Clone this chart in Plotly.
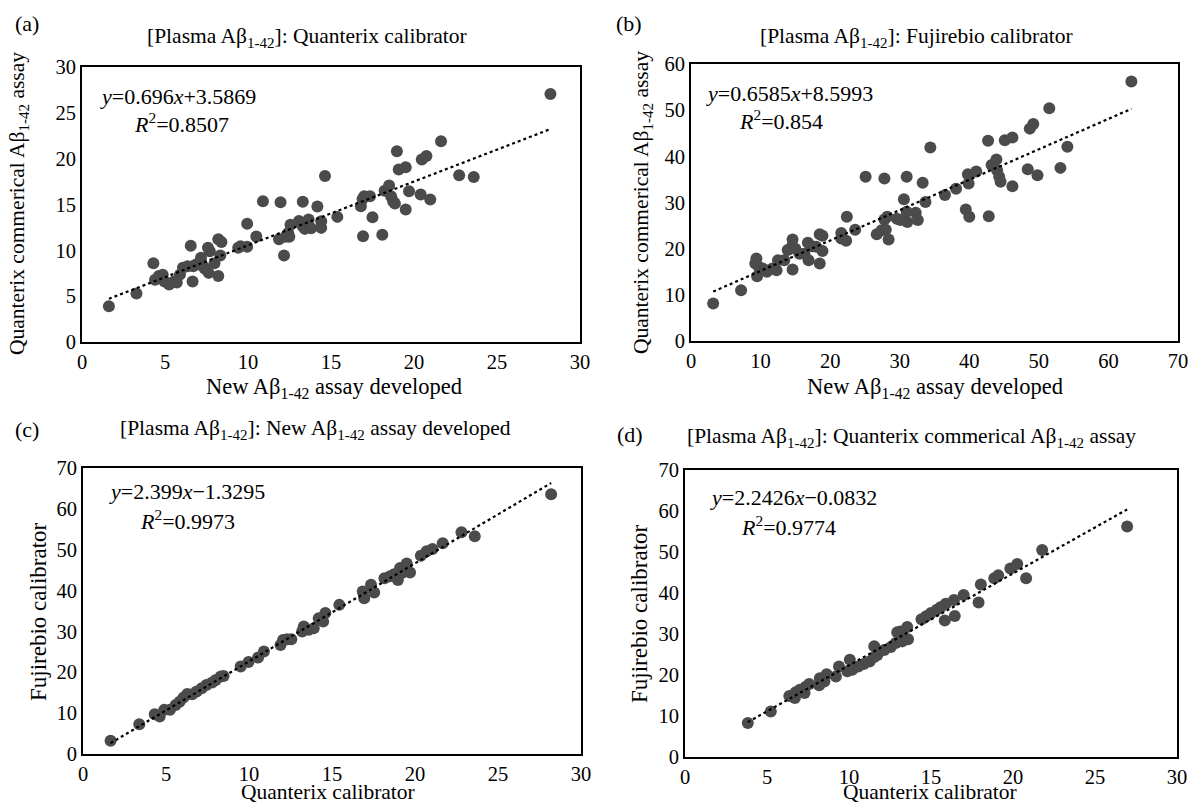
import plotly.graph_objects as go

W, H = 1191, 804

# ---------------- data ----------------
a_x = [1.62, 3.28, 4.3, 4.4, 4.63, 4.86, 4.97, 5.25, 5.55, 5.71, 5.9, 6.08, 6.36, 6.55, 6.66, 6.7, 6.87,
       7.17, 7.29, 7.4, 7.59, 7.63, 7.7, 7.98, 8.21, 8.21, 8.4, 8.33, 9.41, 9.55, 9.95, 9.95, 10.5, 10.9,
       11.87, 11.96, 12.17, 12.26, 12.42, 12.56, 12.49, 13.07, 13.3, 13.3, 13.42, 13.65, 13.8, 14.18,
       14.41, 14.41, 14.64, 15.38, 16.8, 16.9, 16.93, 17.0, 17.35, 17.5, 18.09, 18.23, 18.5, 18.62,
       18.74, 18.85, 18.97, 19.08, 19.5, 19.5, 19.7, 20.4, 20.47, 20.75, 20.98, 21.63, 22.72, 23.6, 28.22]
a_y = [3.9, 5.28, 8.6, 6.8, 7.2, 7.35, 6.6, 6.26, 6.6, 6.5, 7.35, 8.1, 8.26, 10.5, 6.6, 8.26, 8.45,
       9.2, 8.26, 8.0, 10.27, 7.54, 9.9, 8.6, 7.2, 11.2, 10.9, 9.43, 10.27, 10.45, 12.9, 10.4, 11.5, 15.36,
       11.2, 15.25, 9.43, 11.47, 11.9, 12.8, 11.47, 13.2, 15.3, 12.63, 12.34, 13.36, 12.4, 14.78,
       13.18, 12.45, 18.1, 13.65, 14.8, 15.6, 11.54, 15.9, 15.9, 13.6, 11.7, 16.5, 17.07, 15.9,
       15.36, 15.1, 20.82, 18.82, 19.07, 14.45, 16.45, 16.1, 19.9, 20.28, 15.55, 21.9, 18.2, 18.0, 27.05]

b_x = [3.19, 7.2, 9.24, 9.4, 9.5, 9.79, 10.3, 10.9, 11.7, 12.3, 12.5, 13.4, 13.9, 14.5, 14.6, 14.6,
       15.0, 15.6, 16.3, 16.8, 16.9, 17.4, 18.0, 18.5, 18.5, 18.9, 18.9, 21.6, 21.6, 22.3, 22.4, 23.6,
       25.1, 26.7, 27.4, 27.8, 27.8, 28.0, 28.4, 28.2, 29.6, 30.1, 30.6, 31.0, 31.0, 31.1, 32.3, 32.6,
       33.3, 33.7, 34.4, 36.5, 38.1, 39.5, 39.8, 39.9, 40.0, 41.0, 42.7, 42.8, 43.2, 43.9, 44.0, 44.3,
       44.5, 45.1, 46.2, 46.2, 48.4, 48.7, 49.2, 49.8, 51.5, 53.1, 54.1, 63.3]
b_y = [8.1, 11.0, 16.8, 17.86, 14.0, 16.0, 15.7, 15.0, 15.7, 15.3, 17.5, 17.5, 19.7, 20.4, 22.0, 15.5,
       20.0, 18.9, 18.9, 21.3, 17.5, 20.5, 20.4, 16.8, 23.1, 22.8, 19.5, 23.4, 22.2, 21.7, 26.9, 24.1,
       35.6, 23.1, 24.0, 35.2, 26.3, 24.1, 22.0, 26.9, 26.5, 26.2, 30.7, 35.6, 28.0, 25.8, 27.8, 26.2,
       34.3, 30.1, 41.9, 31.6, 33.0, 28.5, 36.1, 34.1, 26.9, 36.7, 43.4, 27.0, 38.1, 39.3, 37.0, 35.6,
       34.5, 43.5, 44.1, 33.5, 37.2, 46.0, 47.0, 35.9, 50.4, 37.5, 42.1, 56.2]

c_x = [1.66, 3.39, 4.32, 4.62, 4.89, 5.24, 5.58, 5.82, 6.05, 6.28, 6.58, 6.85, 7.15, 7.43, 7.78, 8.0,
       8.3, 8.47, 9.5, 9.97, 10.55, 10.9, 11.9, 12.05, 12.3, 12.55, 13.2, 13.3, 13.6, 13.9, 14.2, 14.47,
       14.6, 15.44, 16.85, 16.94, 17.35, 17.54, 18.16, 18.5, 18.74, 18.97, 19.1, 19.2, 19.5, 19.7,
       20.35, 20.7, 21.05, 21.67, 22.8, 23.6, 28.2]
c_y = [3.27, 7.27, 9.72, 9.15, 10.8, 10.8, 12.0, 12.8, 13.8, 14.7, 14.6, 15.3, 16.1, 16.9, 17.5, 18.1,
       18.95, 19.1, 21.4, 22.5, 23.6, 25.1, 26.7, 27.9, 28.1, 28.1, 30.0, 31.2, 30.4, 30.8, 33.2, 32.4,
       34.5, 36.5, 39.8, 38.1, 41.4, 39.5, 43.0, 43.5, 44.0, 42.6, 45.5, 44.3, 46.6, 44.4,
       48.5, 49.6, 50.2, 51.6, 54.3, 53.3, 63.6]

d_x = [3.83, 5.23, 6.36, 6.7, 6.75, 7.0, 7.29, 7.34, 7.57, 8.18, 8.22, 8.5, 8.64, 9.2, 9.39, 9.9,
       10.05, 10.2, 10.56, 10.9, 11.26, 11.54, 11.54, 11.73, 12.15, 12.55, 12.85, 12.94, 13.13, 13.25,
       13.55, 13.6, 14.42, 14.7, 15.0, 15.35, 15.58, 15.9, 15.84, 16.4, 16.45, 16.99, 17.9, 18.04,
       18.86, 19.1, 19.84, 20.26, 20.8, 21.78, 26.96]
d_y = [8.28, 11.1, 14.9, 14.4, 15.8, 16.4, 15.6, 17.05, 17.8, 17.5, 19.2, 18.4, 20.2, 19.65, 22.1, 20.9,
       23.7, 21.3, 22.1, 22.7, 23.3, 24.4, 27.0, 24.9, 26.1, 26.8, 27.8, 30.4, 30.6, 28.2,
       31.7, 28.7, 33.6, 34.3, 35.1, 35.9, 36.5, 37.4, 33.3, 38.3, 34.4, 39.5, 37.7, 42.1,
       43.6, 44.3, 46.0, 47.1, 43.6, 50.5, 56.2]

# regression coefficients reported on the chart
slopes = [0.696, 0.6585, 2.399, 2.2426]
intercepts = [3.5869, 8.5993, -1.3295, -0.0832]
eq_texts = ["<i>y</i>=0.696<i>x</i>+3.5869", "<i>y</i>=0.6585<i>x</i>+8.5993",
            "<i>y</i>=2.399<i>x</i>\u22121.3295", "<i>y</i>=2.2426<i>x</i>\u22120.0832"]
r2_texts = ["<i>R</i><sup>2</sup>=0.8507", "<i>R</i><sup>2</sup>=0.854",
            "<i>R</i><sup>2</sup>=0.9973", "<i>R</i><sup>2</sup>=0.9774"]

titles = ["[Plasma A\u03b2<sub>1-42</sub>]: Quanterix calibrator",
          "[Plasma A\u03b2<sub>1-42</sub>]: Fujirebio calibrator",
          "[Plasma A\u03b2<sub>1-42</sub>]: New A\u03b2<sub>1-42</sub> assay developed",
          "[Plasma A\u03b2<sub>1-42</sub>]: Quanterix commerical A\u03b2<sub>1-42</sub> assay"]
labels = ["(a)", "(b)", "(c)", "(d)"]
xtitles = ["New A\u03b2<sub>1-42</sub> assay developed", "New A\u03b2<sub>1-42</sub> assay developed",
           "Quanterix calibrator", "Quanterix calibrator"]
ytitles = ["Quanterix commerical A\u03b2<sub>1-42</sub> assay", "Quanterix commerical A\u03b2<sub>1-42</sub> assay",
           "Fujirebio calibrator", "Fujirebio calibrator"]
x_ranges = [[0, 30], [0, 70], [0, 30], [0, 30]]
y_ranges = [[0, 30], [0, 60], [0, 70], [0, 70]]
x_dticks = [5, 10, 5, 5]
y_dticks = [5, 10, 10, 10]

# ---------------- layout geometry (screen pixels) ----------------
boxes = [(82, 580, 67, 342), (691, 1178, 64, 341), (83, 581, 468, 754), (685, 1177, 470, 757)]
title_pos = [(307, 37), (916, 38), (315, 430), (911, 437)]
label_pos = [(27, 24), (629, 24), (27, 430), (630, 435)]
xt_pos = [(334, 388), (935, 388), (328, 792), (930, 792)]
yt_pos = [(18, 204), (642, 203), (38, 612), (639, 614)]
eq_pos = [(98, 96), (704, 93), (107, 491), (708, 497)]
r2_pos = [(132, 123), (737, 120), (138, 520), (739, 526)]
ytitle_sizes = [21.5, 21.5, 23, 23]
xtitle_sizes = [22.5, 22.5, 21.5, 21.5]

FONT = "Liberation Serif"
MARK = "#4b4b4b"


def px(x):
    return x / W


def py(y):
    return 1 - y / H


def f(s):
    return dict(family=FONT, size=s, color="black")


fig = go.Figure()
datasets = [(a_x, a_y), (b_x, b_y), (c_x, c_y), (d_x, d_y)]
annotations = []
for i, (xs, ys) in enumerate(datasets):
    n = "" if i == 0 else str(i + 1)
    xa, ya = "x" + n, "y" + n
    fig.add_trace(go.Scatter(x=xs, y=ys, mode="markers", xaxis=xa, yaxis=ya,
                             marker=dict(size=12, color=MARK), showlegend=False))
    x0, x1 = min(xs), max(xs)
    fig.add_trace(go.Scatter(x=[x0, x1], y=[slopes[i] * x0 + intercepts[i], slopes[i] * x1 + intercepts[i]],
                             mode="lines", xaxis=xa, yaxis=ya,
                             line=dict(color="black", width=2.2, dash="dot"), showlegend=False))
    l, r, t, b = boxes[i]
    axis_common = dict(showgrid=False, zeroline=False, showline=True, linecolor="black",
                       linewidth=2, mirror=True, ticks="", automargin=False,
                       ticklabeloverflow="allow", tickfont=f(20.5))
    fig.layout["xaxis" + n] = dict(domain=[px(l), px(r)], range=x_ranges[i], dtick=x_dticks[i],
                                   anchor=ya, **axis_common)
    fig.layout["yaxis" + n] = dict(domain=[py(b), py(t)], range=y_ranges[i], dtick=y_dticks[i],
                                   anchor=xa, **axis_common)

    common = dict(xref="paper", yref="paper", showarrow=False, xanchor="center", yanchor="middle")
    annotations.append(dict(text=titles[i], x=px(title_pos[i][0]), y=py(title_pos[i][1]), font=f(21.5), **common))
    annotations.append(dict(text=labels[i], x=px(label_pos[i][0]), y=py(label_pos[i][1]), font=f(22), **common))
    annotations.append(dict(text=xtitles[i], x=px(xt_pos[i][0]), y=py(xt_pos[i][1]),
                            font=f(xtitle_sizes[i]), **common))
    annotations.append(dict(text=ytitles[i], x=px(yt_pos[i][0]), y=py(yt_pos[i][1]), textangle=-90,
                            font=f(ytitle_sizes[i]), **common))
    common_l = dict(xref="paper", yref="paper", showarrow=False, xanchor="left", yanchor="middle")
    annotations.append(dict(text=eq_texts[i], x=px(eq_pos[i][0]), y=py(eq_pos[i][1]), font=f(22), **common_l))
    annotations.append(dict(text=r2_texts[i], x=px(r2_pos[i][0]), y=py(r2_pos[i][1]), font=f(22), **common_l))

fig.update_layout(width=W, height=H, margin=dict(l=0, r=0, t=0, b=0),
                  paper_bgcolor="white", plot_bgcolor="white", annotations=annotations,
                  font=dict(family=FONT, color="black"))
# remove the browser's default page margin so the figure fills the window exactly
fig.write_html("out.html", config={"displayModeBar": False},
               post_script="document.body.style.margin='0';document.body.style.overflow='hidden';")
